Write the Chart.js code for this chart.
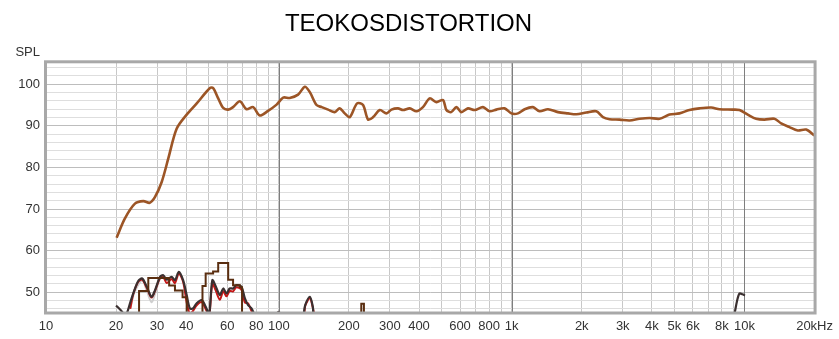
<!DOCTYPE html>
<html>
<head>
<meta charset="utf-8">
<script src="https://cdn.jsdelivr.net/npm/chart.js@4.4.1/dist/chart.umd.min.js"></script>
<style>
  body { margin: 0; background: #fff; }
  canvas { display: block; }
</style>
</head>
<body>
<canvas id="chart" width="839" height="339"></canvas>
<script>
// frequency response (Hz / dB)
const splFreq = [20.1, 21.8, 24.1, 26.2, 27.9, 29.4, 31.4, 33.5, 36.4, 40.2, 44.4, 50.6, 52.2, 54.9, 57.7, 60.6, 63.6, 68.0, 72.6, 77.6, 82.8, 89.9, 97.8, 104.4, 111.4, 121, 129.3, 135.9, 145.2, 152.8, 162.8, 173.8, 182.6, 191.9, 201.6, 216.9, 230, 241.7, 254, 271.4, 290, 304.5, 325, 341.7, 365, 390, 416, 444.6, 475, 507, 524.5, 550, 579, 608, 649, 694, 753, 805, 860, 933, 997, 1064, 1137, 1234, 1318, 1432, 1581, 1745, 1895, 2093, 2309, 2466, 2634, 2907, 3209, 3543, 3910, 4315, 4763, 5257, 5802, 6405, 7194, 7812, 8912, 9516, 10330, 11220, 12180, 13450, 14370, 15600, 16940, 18400, 19970];
const splValues = [63.1, 67.7, 71.3, 71.9, 71.5, 72.9, 76.5, 82.1, 89.3, 92.7, 95.4, 99.1, 99.1, 96.6, 94.3, 93.9, 94.5, 95.9, 94.0, 94.5, 92.5, 93.6, 95.1, 96.8, 96.7, 97.5, 99.4, 98.1, 95.0, 94.5, 93.9, 93.3, 94.2, 93.0, 92.1, 95.4, 95.0, 91.5, 92.1, 93.8, 93.0, 93.9, 94.2, 93.8, 94.2, 93.5, 94.5, 96.6, 95.7, 96.2, 93.8, 93.3, 94.5, 93.3, 94.2, 93.8, 94.5, 93.5, 93.9, 94.2, 93.0, 93.0, 94.0, 94.5, 93.5, 94.0, 93.3, 93.0, 92.8, 93.2, 93.5, 92.1, 91.6, 91.5, 91.3, 91.7, 91.9, 91.7, 92.7, 93.0, 93.8, 94.2, 94.4, 94.0, 93.9, 93.8, 92.7, 91.7, 91.5, 91.7, 90.6, 89.7, 88.9, 89.1, 87.7];

// stepped distortion trace (value holds from each frequency on)
const stepFreq = [24, 25.1, 27.5, 31.0, 33.8, 35.8, 38.6, 40.2, 47.0, 48.5, 52.2, 54.9, 60.6, 63.6, 68.0, 69.5, 226, 232];
const stepValues = [40, 50.3, 53.4, 53.4, 51.6, 50.4, 48.8, 40, 51.5, 54.5, 55.0, 57.0, 53.0, 51.7, 51.2, 40, 47.2, 40];

// dark distortion trace
const darkFreq = [20.0, 21.0, 22.0, 23.0, 23.7, 24.9, 25.9, 27.1, 28.4, 29.4, 30.9, 31.9, 33.0, 34.6, 35.8, 37.2, 38.8, 40.2, 41.5, 42.8, 44.3, 46.6, 48.9, 50.2, 51.8, 53.5, 55.8, 57.7, 59.6, 61.5, 63.6, 65.7, 69.1, 71.5, 73.8, 76.3, 78.8, 82, 95, 100, 104, 125, 130, 135.9, 140, 145, 8800, 9057, 9300, 9516, 9800, 10050];
const darkValues = [46.8, 45.6, 44.5, 47.5, 49.7, 52.7, 53.3, 51.3, 48.9, 50.5, 53.7, 54.1, 53.0, 53.7, 52.9, 54.9, 52.9, 49.3, 46.1, 46.1, 47.3, 48.1, 46.1, 44.6, 52.9, 51.5, 49.3, 50.9, 49.7, 50.9, 50.9, 51.7, 51.3, 48.5, 46.9, 46.1, 44.5, 43, 44, 45.3, 43, 43.5, 47, 48.9, 46.5, 42, 42, 44.8, 48.0, 49.7, 49.5, 49.2];

// red distortion trace
const redFreq = [23.0, 23.7, 24.9, 25.9, 27.1, 28.4, 29.4, 30.9, 31.9, 33.0, 34.6, 35.8, 37.2, 38.8, 40.2, 41.5, 42.8, 44.3, 46.6, 48.9, 50.2, 51.8, 53.5, 55.8, 57.7, 59.6, 61.5, 63.6, 65.7, 69.1, 71.5, 73.8, 76.3, 78.8, 125, 130, 135.9, 140, 145];
const redValues = [46, 49.5, 52.5, 53, 51, 48.7, 50.3, 53.4, 53.6, 52.2, 53.2, 52.2, 54.5, 52.5, 47.5, 44.8, 45.5, 46.8, 47.6, 45.5, 44, 52.0, 50.5, 48.2, 50.2, 49.0, 50.3, 50.2, 51.2, 50.6, 47.5, 47.3, 45.5, 44, 43, 46.8, 48.6, 46.2, 42];

// light grey trace
const greyFreq = [23, 24, 25.9, 27.1, 28.4, 29.4, 30.9, 32];
const greyValues = [46, 50, 52.8, 50.3, 47.6, 49.6, 53.3, 53.5];

const xTicks = [10, 20, 30, 40, 50, 60, 70, 80, 90, 100, 200, 300, 400, 500, 600, 700, 800, 900, 1000, 2000, 3000, 4000, 5000, 6000, 7000, 8000, 9000, 10000, 20000];
const xLabels = {10: '10', 20: '20', 30: '30', 40: '40', 60: '60', 80: '80', 100: '100', 200: '200', 300: '300', 400: '400', 600: '600', 800: '800', 1000: '1k', 2000: '2k', 3000: '3k', 4000: '4k', 5000: '5k', 6000: '6k', 8000: '8k', 10000: '10k', 20000: '20kHz'};
const decades = [100, 1000, 10000];
const yTicks = [46, 48, 50, 52, 54, 56, 58, 60, 62, 64, 66, 68, 70, 72, 74, 76, 78, 80, 82, 84, 86, 88, 90, 92, 94, 96, 98, 100, 102, 104];

function pts(f, v) {
    return f.map((x, i) => ({ x: x, y: v[i] }));
}

const font = { family: "'Liberation Sans', Arial, sans-serif", size: 13 };

const framePlugin = {
    id: 'frame',
    beforeDatasetsDraw(chart) {
        // darker decade lines on top of the horizontal grid
        const c = chart.ctx;
        const a = chart.chartArea;
        const xs = chart.scales.x;
        c.save();
        c.strokeStyle = '#7e7e7e';
        c.lineWidth = 1;
        decades.forEach(d => {
            const px = Math.round(xs.getPixelForValue(d)) + 0.5;
            c.beginPath();
            c.moveTo(px, a.top);
            c.lineTo(px, a.bottom);
            c.stroke();
        });
        c.restore();
    },
    afterDraw(chart) {
        const c = chart.ctx;
        const a = chart.chartArea;
        c.save();
        c.strokeStyle = '#a8a8a8';
        c.lineWidth = 3;
        c.strokeRect(a.left - 0.5, a.top, a.right - a.left + 1, a.bottom - a.top);
        c.fillStyle = '#333';
        c.font = "13px 'Liberation Sans', Arial, sans-serif";
        c.textAlign = 'right';
        c.textBaseline = 'middle';
        c.fillText('SPL', 40, 52);
        c.restore();
    }
};

new Chart(document.getElementById('chart').getContext('2d'), {
    type: 'line',
    data: {
        datasets: [
            { data: pts(splFreq, splValues), borderColor: '#9c5526', borderWidth: 2.6, pointRadius: 0, tension: 0.3, clip: 0 },
            { data: pts(stepFreq, stepValues), borderColor: '#5a2e10', borderWidth: 2, pointRadius: 0, stepped: 'before', clip: 0 },
            { data: pts(darkFreq, darkValues), borderColor: '#3b3030', borderWidth: 2.2, pointRadius: 0, tension: 0.3, clip: 0 },
            { data: pts(redFreq, redValues), borderColor: '#c41818', borderWidth: 2, pointRadius: 0, tension: 0.3, clip: 0 },
            { data: pts(greyFreq, greyValues), borderColor: '#cfcfcf', borderWidth: 2, pointRadius: 0, tension: 0.3, clip: 0 }
        ]
    },
    options: {
        responsive: false,
        animation: false,
        layout: { padding: { left: 0, right: 22, top: 0, bottom: 0 } },
        plugins: {
            legend: { display: false },
            tooltip: { enabled: false },
            title: {
                display: true,
                text: 'TEOKOSDISTORTION',
                color: '#000',
                font: { family: "'Liberation Sans', Arial, sans-serif", size: 24, weight: 'normal' },
                padding: { top: 10, bottom: 23 }
            }
        },
        scales: {
            x: {
                type: 'logarithmic',
                min: 10,
                max: 20000,
                afterBuildTicks: s => { s.ticks = xTicks.map(v => ({ value: v })); },
                afterFit: s => { s.height = 26; },
                border: { display: false },
                grid: {
                    drawTicks: false,
                    color: '#c8c8c8'
                },
                ticks: {
                    autoSkip: false,
                    maxRotation: 0,
                    padding: 6,
                    color: '#333',
                    font: font,
                    callback: v => xLabels[v] || ''
                }
            },
            y: {
                min: 45,
                max: 105.4,
                afterBuildTicks: s => { s.ticks = yTicks.map(v => ({ value: v })); },
                afterFit: s => { s.width = 46; },
                border: { display: false },
                grid: {
                    drawTicks: false,
                    color: c => (c.tick && c.tick.value % 10 === 0) ? '#bdbdbd' : '#dedede'
                },
                ticks: {
                    autoSkip: false,
                    padding: 6,
                    color: '#333',
                    font: font,
                    callback: v => (v % 10 === 0 ? String(v) : '')
                }
            }
        }
    },
    plugins: [framePlugin]
});
</script>
</body>
</html>
